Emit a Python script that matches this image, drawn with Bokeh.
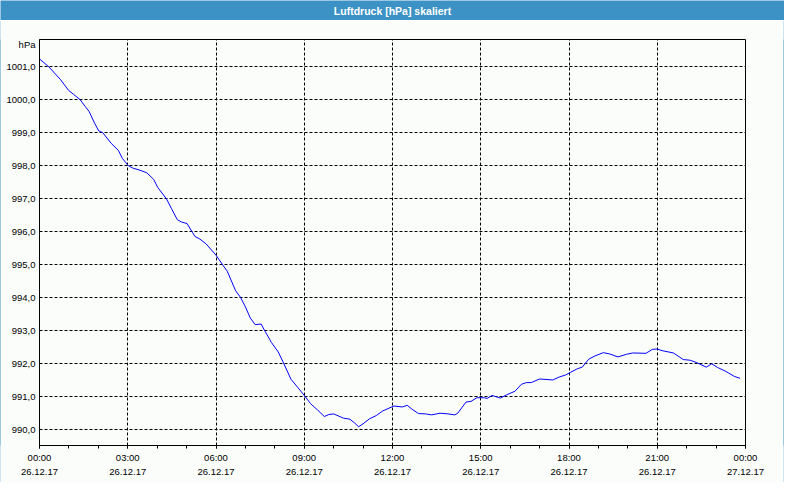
from bokeh.plotting import figure
from bokeh.layouts import column, row
from bokeh.models import ColumnDataSource, FixedTicker, Range1d
from bokeh.core.properties import value
from bokeh.embed import file_html
from bokeh.resources import INLINE

title_text = "Luftdruck [hPa] skaliert"
unit_label = "hPa"

# minutes after 26.12.17 00:00
minutes = [
    0, 19, 43, 59, 69, 83, 93, 101, 113, 121,
    129, 146, 161, 169, 181, 191, 203, 219, 233, 241,
    259, 269, 281, 289, 301, 312, 317, 327, 340, 360,
    373, 383, 400, 410, 420, 430, 440, 452, 460, 473,
    487, 497, 513, 527, 540, 553, 567, 581, 590, 600,
    620, 633, 643, 651, 660, 673, 687, 700, 723, 740,
    750, 760, 773, 787, 800, 817, 833, 847, 853, 870,
    880, 892, 907, 913, 923, 940, 953, 970, 983, 993,
    1003, 1020, 1047, 1060, 1073, 1083, 1097, 1107, 1120, 1133,
    1150, 1163, 1180, 1197, 1210, 1237, 1250, 1260, 1270, 1293,
    1313, 1327, 1340, 1360, 1371, 1383, 1400, 1417, 1429,
]
pressure = [
    1001.24, 1001.0, 1000.61, 1000.29, 1000.17, 1000.0, 999.8, 999.65, 999.27, 999.05,
    999.0, 998.68, 998.46, 998.22, 998.0, 997.92, 997.87, 997.78, 997.58, 997.34,
    996.99, 996.7, 996.36, 996.29, 996.24, 995.97, 995.85, 995.77, 995.62, 995.28,
    995.0, 994.79, 994.2, 994.0, 993.71, 993.37, 993.17, 993.19, 992.97, 992.63,
    992.34, 992.03, 991.51, 991.26, 991.02, 990.77, 990.58, 990.38, 990.44, 990.46,
    990.33, 990.3, 990.18, 990.07, 990.16, 990.31, 990.41, 990.55, 990.7, 990.67,
    990.72, 990.6, 990.47, 990.46, 990.43, 990.48, 990.46, 990.43, 990.48, 990.82,
    990.84, 990.95, 990.95, 990.93, 991.02, 990.94, 991.04, 991.15, 991.36, 991.41,
    991.41, 991.52, 991.49, 991.58, 991.64, 991.72, 991.83, 991.88, 992.12, 992.22,
    992.32, 992.28, 992.19, 992.27, 992.31, 992.3, 992.42, 992.43, 992.38, 992.31,
    992.11, 992.09, 992.02, 991.88, 991.98, 991.87, 991.75, 991.6, 991.54,
]

x_tick_hours = [0, 3, 6, 9, 12, 15, 18, 21, 24]
x_tick_times = ["00:00", "03:00", "06:00", "09:00", "12:00", "15:00", "18:00", "21:00", "00:00"]
x_tick_dates = ["26.12.17"] * 8 + ["27.12.17"]
x_minor_hours = list(range(0, 25))

y_ticks = [990, 991, 992, 993, 994, 995, 996, 997, 998, 999, 1000, 1001]
y_tick_labels = ["990,0", "991,0", "992,0", "993,0", "994,0", "995,0",
                 "996,0", "997,0", "998,0", "999,0", "1000,0", "1001,0"]

BLUE = "#3C92C4"
BG = "#FBFDFB"
FONT = "Liberation Sans"

hours = [m / 60.0 for m in minutes]
src = ColumnDataSource(data=dict(x=hours, y=pressure))


def strip(w, h):
    s = figure(width=w, height=h, x_range=(0, 1), y_range=(0, 1),
               toolbar_location=None, output_backend="svg",
               x_axis_type=None, y_axis_type=None, min_border=0)
    s.background_fill_color = BLUE
    s.border_fill_color = BLUE
    s.outline_line_color = None
    s.grid.visible = False
    return s


# ---- title bar ----
bar = strip(784, 20)
bar.text(x=[0.5], y=[0.5], text=[title_text], text_align="center",
         text_baseline="middle", text_color="white", text_font=value(FONT),
         text_font_size="10.5px", text_font_style="bold")

# ---- main chart ----
y_lo, y_hi = 989.5, 1001.83
p = figure(width=782, height=462, toolbar_location=None, output_backend="svg",
           x_range=Range1d(0, 24), y_range=Range1d(y_lo, y_hi),
           min_border_left=38, min_border_right=38, min_border_top=19,
           min_border_bottom=37)
p.background_fill_color = BG
p.border_fill_color = BG
p.outline_line_color = "black"
p.outline_line_width = 1

p.line("x", "y", source=src, line_color="#0000FF", line_width=1)

# x axis
xa = p.xaxis[0]
xa.ticker = FixedTicker(ticks=x_tick_hours, minor_ticks=x_minor_hours)
xa.major_label_overrides = {h: f"{t}\n{d}" for h, t, d in zip(x_tick_hours, x_tick_times, x_tick_dates)}
xa.major_label_text_font = FONT
xa.major_label_text_font_size = "9.5px"
xa.major_label_text_color = "black"
xa.major_label_text_line_height = 1.3
xa.major_label_standoff = 3
xa.major_tick_out = 3
xa.major_tick_in = 0
xa.minor_tick_out = 3
xa.minor_tick_in = 0
xa.axis_line_color = "black"
xa.major_tick_line_color = "black"
xa.minor_tick_line_color = "black"

# y axis
hpa_pos = y_hi - 0.15
ya = p.yaxis[0]
ya.ticker = FixedTicker(ticks=y_ticks + [hpa_pos])
overrides = {t: l for t, l in zip(y_ticks, y_tick_labels)}
overrides[hpa_pos] = unit_label
ya.major_label_overrides = overrides
ya.major_label_text_font = FONT
ya.major_label_text_font_size = "9.5px"
ya.major_label_text_color = "black"
ya.major_label_standoff = 4
ya.major_tick_out = 0
ya.major_tick_in = 0
ya.minor_tick_out = 0
ya.minor_tick_in = 0
ya.axis_line_color = "black"

# grids
p.xgrid.ticker = FixedTicker(ticks=x_tick_hours)
p.ygrid.ticker = FixedTicker(ticks=y_ticks)
for g in (p.xgrid[0], p.ygrid[0]):
    g.grid_line_color = "black"
    g.grid_line_dash = "3 2"
    g.grid_line_width = 1

left_edge = strip(1, 462)
right_edge = strip(1, 462)
bottom_edge = strip(784, 2)

layout = column(bar, row(left_edge, p, right_edge, spacing=0), bottom_edge, spacing=0)
open("out.html", "w").write(file_html(layout, INLINE))
